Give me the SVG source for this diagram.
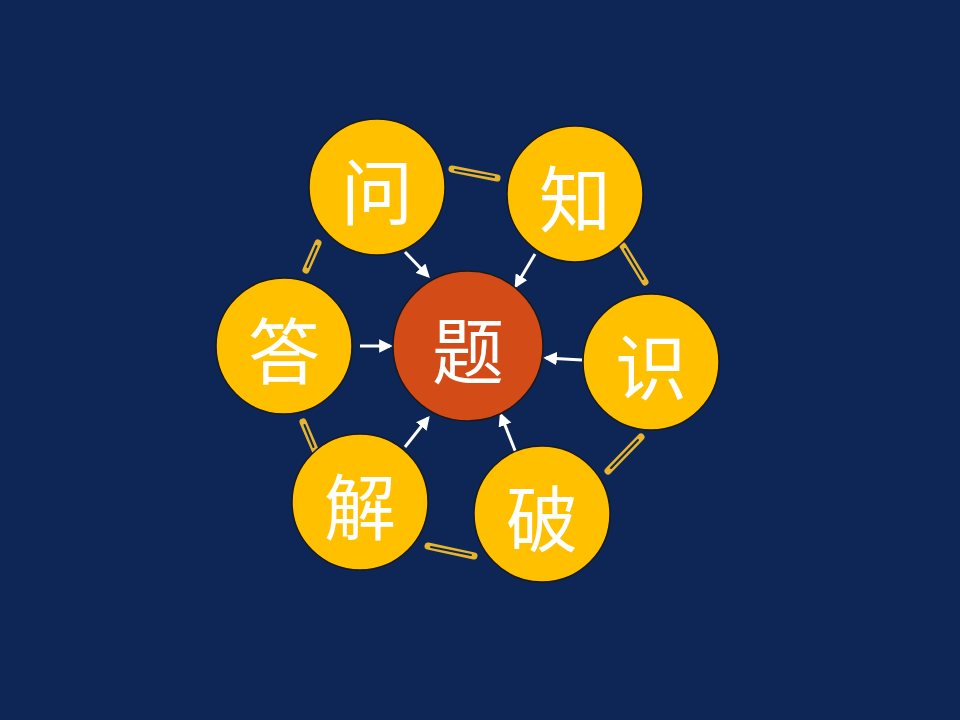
<svg xmlns="http://www.w3.org/2000/svg" width="960" height="720" viewBox="0 0 960 720">
<defs>
<style>
.o{fill:#ffc000;stroke:#1a1a1a;stroke-width:1.5}
.c{fill:#d34b17;stroke:#1a1a1a;stroke-width:1.5}
.t{fill:#ffffff;font-family:"Noto Sans CJK SC","Noto Sans CJK JP",sans-serif;font-size:72px;text-anchor:middle;dominant-baseline:central}
.a{stroke:#ffffff;stroke-width:3;fill:none;marker-end:url(#ah)}
.ly{stroke:#e8b52a;stroke-width:7;stroke-linecap:round;fill:none}
.ld{stroke:#0e2656;stroke-width:2;stroke-linecap:round;fill:none}
</style>
<marker id="ah" viewBox="0 0 10 10" refX="8" refY="5" markerWidth="4.5" markerHeight="4.5" orient="auto" markerUnits="strokeWidth">
<path d="M0,0 L10,5 L0,10 z" fill="#ffffff"/>
</marker>
</defs>
<rect width="960" height="720" fill="#0e2656"/>
<g id="connectors">
<line class="a" x1="405" y1="252" x2="428" y2="276"/>
<line class="a" x1="535" y1="254" x2="516" y2="286"/>
<line class="a" x1="360" y1="346" x2="390" y2="346"/>
<line class="a" x1="582" y1="360" x2="546" y2="358"/>
<line class="a" x1="405" y1="447" x2="428" y2="418"/>
<line class="a" x1="516" y1="453" x2="501" y2="415"/>
<line class="ly" x1="452" y1="169" x2="497" y2="178"/>
<line class="ld" x1="455" y1="170" x2="494" y2="177"/>
<line class="ly" x1="623" y1="246" x2="645" y2="282"/>
<line class="ld" x1="625" y1="249" x2="643" y2="279"/>
<line class="ly" x1="641" y1="437" x2="608" y2="471"/>
<line class="ld" x1="638" y1="440" x2="611" y2="468"/>
<line class="ly" x1="428" y1="546" x2="474" y2="556"/>
<line class="ld" x1="431" y1="547" x2="471" y2="555"/>
<line class="ly" x1="303" y1="422" x2="315" y2="450"/>
<line class="ld" x1="304.5" y1="425" x2="313.5" y2="447"/>
<line class="ly" x1="318" y1="243" x2="306" y2="270"/>
<line class="ld" x1="316.5" y1="246" x2="307.5" y2="267"/>
</g>
<g id="n-ti"><circle class="c" cx="468" cy="346" r="75"/><text class="t" x="468" y="346">题</text></g>
<g id="n-wen"><circle class="o" cx="377" cy="187" r="68"/><text class="t" x="377" y="187">问</text></g>
<g id="n-zhi"><circle class="o" cx="575" cy="194" r="68"/><text class="t" x="575" y="194">知</text></g>
<g id="n-shi"><circle class="o" cx="651" cy="362" r="68"/><text class="t" x="651" y="362">识</text></g>
<g id="n-po"><circle class="o" cx="542" cy="514" r="68"/><text class="t" x="542" y="514">破</text></g>
<g id="n-jie"><circle class="o" cx="360" cy="502" r="68"/><text class="t" x="360" y="502">解</text></g>
<g id="n-da"><circle class="o" cx="284" cy="346" r="68"/><text class="t" x="284" y="346">答</text></g>
</svg>
